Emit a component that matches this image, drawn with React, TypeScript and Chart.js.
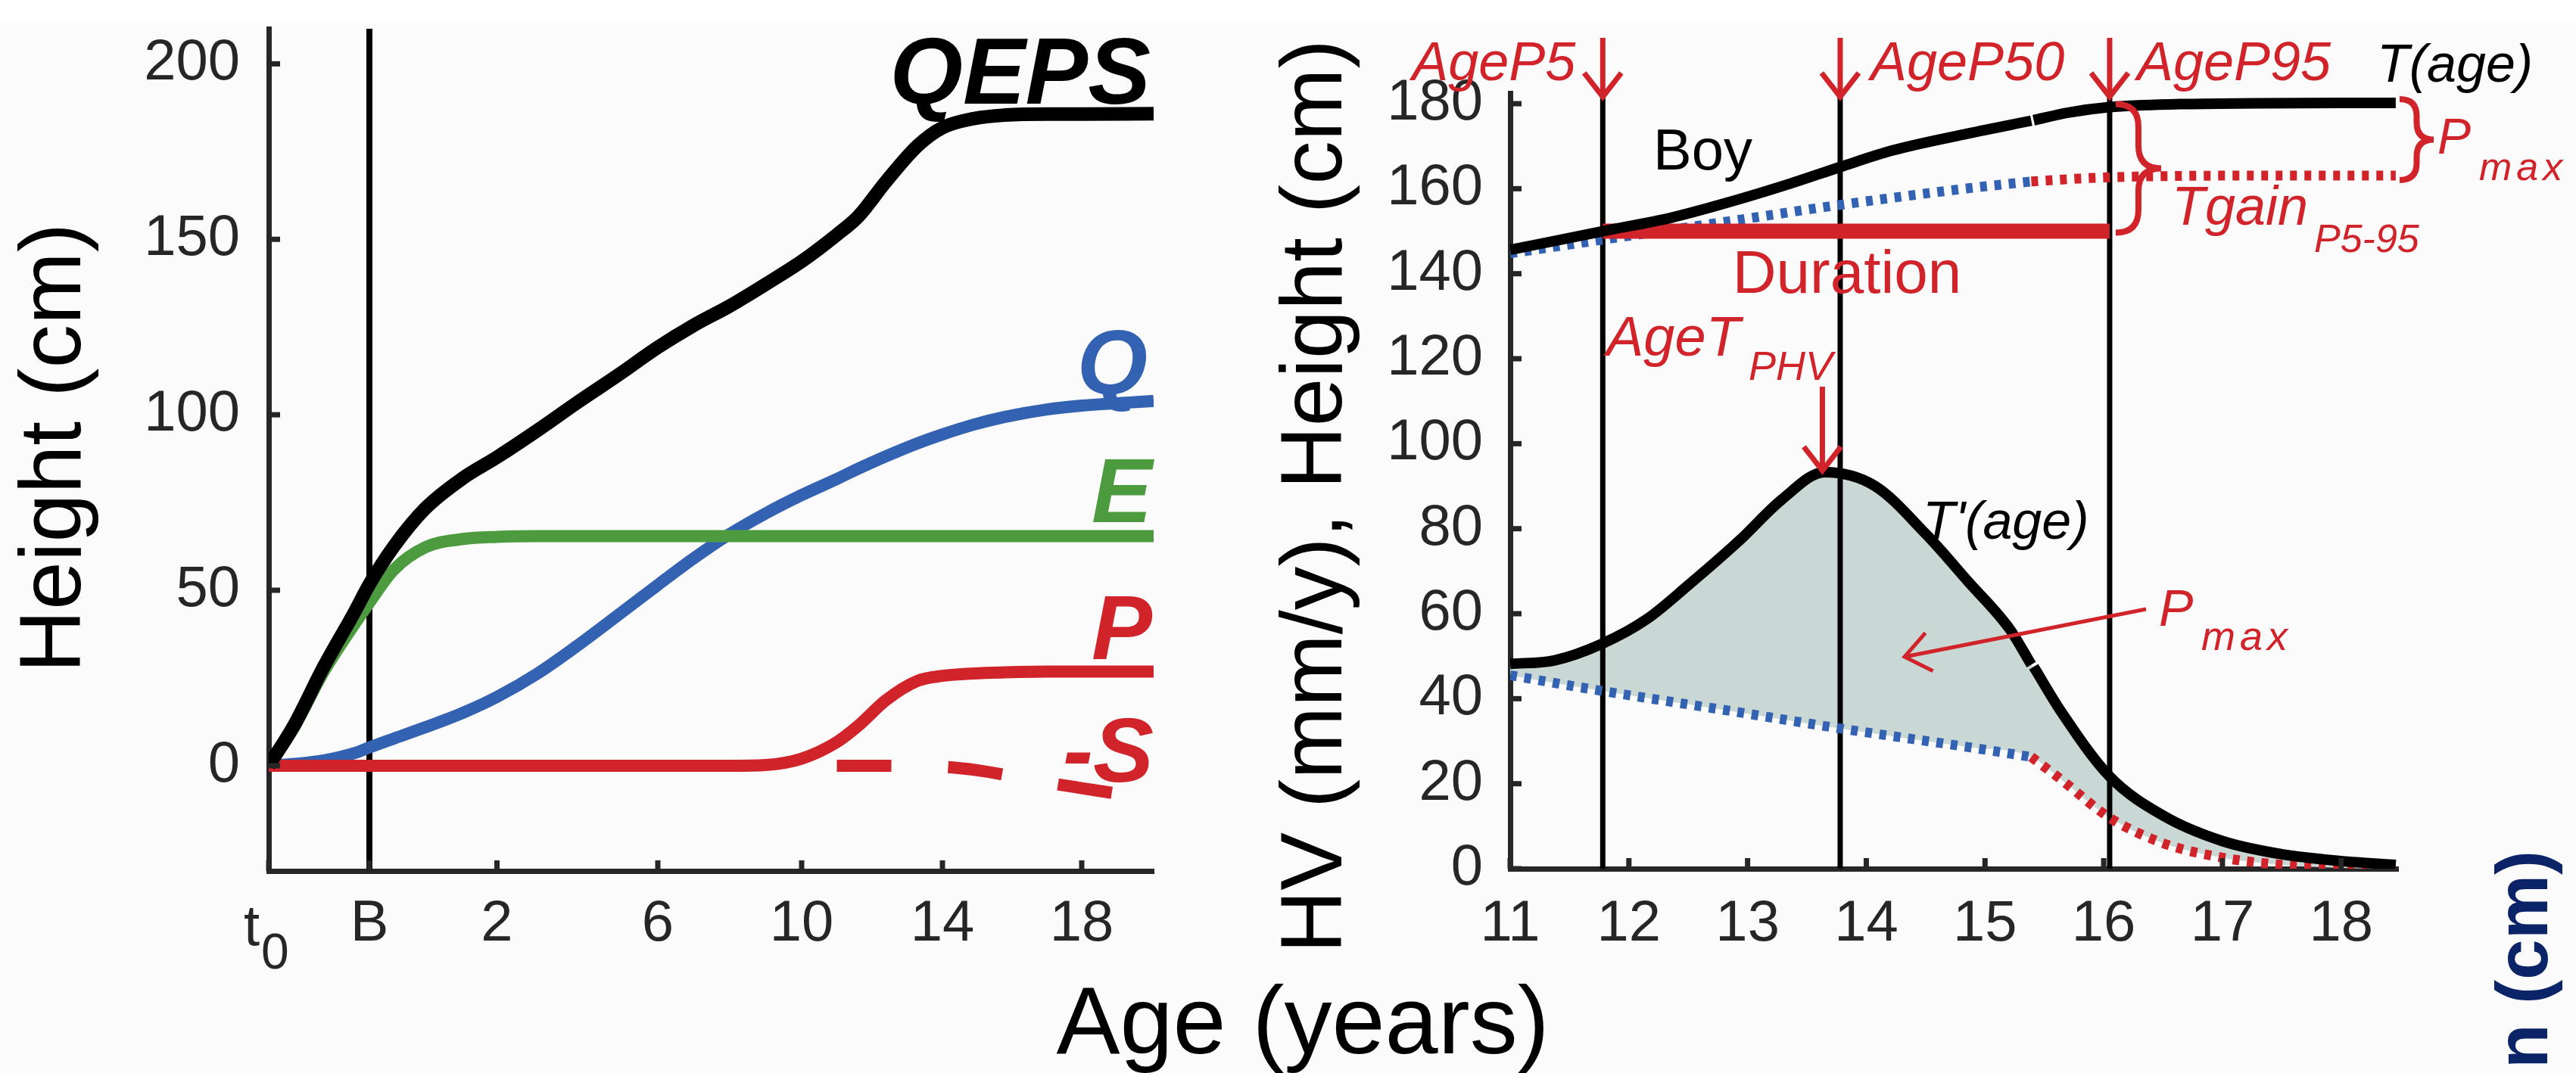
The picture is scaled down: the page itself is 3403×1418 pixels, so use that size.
import React, { useEffect, useRef } from 'react';
import { Chart, registerables } from 'chart.js';

Chart.register(...registerables);

const W = 3403;
const H = 1418;
const FONT = "'Liberation Sans', Arial, Helvetica, sans-serif";
const RED = '#d1232a';
const BLUE = '#3462b2';
const GREEN = '#4d9b3f';
const AXIS_COLOR = '#262626';
const NAVY = '#0b2467';
const FILL = '#c9d7d5';

// ---------------- Left panel (QEPS components) ----------------
const LEFT_TICK_AGES = [-0.75, 0, 2, 6, 10, 14, 18];
const LEFT_TICK_LABELS = ['t0', 'B', '2', '6', '10', '14', '18'];
const LEFT_Y_TICKS = [0, 50, 100, 150, 200];
// the age axis is non-linear: anchor ages and their axis units
const AXIS_AGE_ANCHORS = [-0.75, 0, 2, 6, 10, 14, 18, 20];
const AXIS_UNIT_ANCHORS = [0, 133, 301.5, 514, 704, 890, 1074, 1169];

const LEFT_AGES = [-0.75, -0.56, -0.34, -0.11, 0, 0.38, 0.87, 1.47, 2, 3, 4, 5, 6, 7, 8, 9, 10, 11, 11.6, 12.4, 13.3, 14, 14.9, 15.8, 17, 18, 20];
const QEPS_CM = [0, 11.6, 28.2, 43.8, 51.7, 62.4, 73.2, 82, 87.9, 95.5, 103.5, 111.2, 119.2, 125.5, 131, 137.2, 143.7, 151.3, 156.4, 166.5, 176.7, 181.8, 184.4, 185.4, 185.7, 185.7, 185.8];
const Q_CM = [0, 0.5, 1.5, 3.6, 5.2, 7.7, 10.9, 15.1, 19.6, 26.2, 34.2, 42.8, 51.5, 59.1, 66.0, 71.9, 77.1, 81.7, 84.6, 88.2, 91.9, 94.4, 97.2, 99.4, 101.5, 102.6, 103.9];
const E_CM = [0, 11, 26.8, 40.4, 46.5, 55.8, 62.2, 64.6, 65.2, 65.4, 65.4, 65.4, 65.4, 65.4, 65.4, 65.4, 65.4, 65.4, 65.4, 65.4, 65.4, 65.4, 65.4, 65.4, 65.4, 65.4, 65.4];
const P_CM = [0, 0, 0, 0, 0, 0, 0, 0, 0, 0, 0, 0, 0, 0, 0, 0.2, 2.0, 6.7, 11.3, 18.7, 24.2, 25.6, 26.3, 26.6, 26.8, 26.8, 26.8];
const S_AGES = [11, 12, 13, 14, 15, 16, 17, 18, 19, 20];
const S_CM = [0, 0, -0.1, -0.3, -1.3, -3.0, -4.8, -6.4, -8.0, -9.6];
const BIRTH_AGE = 0;

// ---------------- Right panel (boy, puberty) ----------------
const RIGHT_X_TICKS = [11, 12, 13, 14, 15, 16, 17, 18];
const RIGHT_Y_TICKS = [0, 20, 40, 60, 80, 100, 120, 140, 160, 180];

const T_AGES_A = [11, 11.78, 12.36, 12.79, 13.36, 13.78, 14.22, 14.86, 15.39];
const T_CM_A = [145.6, 150.0, 153.2, 156.4, 161.2, 165.1, 169.0, 173.0, 176.0];
const T_AGES_B = [15.41, 15.7, 16.05, 16.64, 17.3, 18, 18.46];
const T_CM_B = [176.1, 177.9, 179.2, 179.9, 180.1, 180.2, 180.2];

const HV_AGES_A = [11, 11.37, 11.78, 12.15, 12.5, 12.93, 13.29, 13.65, 14.07, 14.5, 14.86, 15.21, 15.39];
const HV_A = [48.2, 49.0, 53.0, 58.7, 66.7, 77.2, 86.9, 93.3, 90.1, 78.8, 67.5, 56.3, 48.0];
const HV_AGES_B = [15.41, 15.64, 16.05, 16.5, 17.0, 17.5, 18.0, 18.46];
const HV_B = [47.5, 37.0, 21.7, 12.5, 6.5, 3.4, 1.8, 0.9];

const BASE_T_AGES_A = [11, 11.78, 12.79, 13.78, 14.86, 15.39];
const BASE_T_A = [144.8, 148.0, 152.1, 156.2, 160.1, 161.7];
const BASE_T_AGES_B = [15.39, 15.8, 16.05, 16.6, 17.5, 18.46];
const BASE_T_B = [161.7, 162.4, 162.7, 163.0, 163.1, 163.1];

const BASE_HV_AGES_A = [11, 11.78, 12.79, 13.78, 14.86, 15.39];
const BASE_HV_A = [45.5, 41.8, 37.4, 33.0, 28.6, 26.3];
const BASE_HV_AGES_B = [15.39, 15.64, 16.05, 16.5, 17.0, 17.5, 18.0, 18.46];
const BASE_HV_B = [26.3, 21.0, 12.0, 6.0, 2.6, 0.9, 0.2, 0];

const AGE_P5 = 11.78;
const AGE_P50 = 13.78;
const AGE_P95 = 16.05;
const AGE_PHV = 13.63;
const PHV_VALUE = 93.3;
const DURATION_CM = 150;

function ageToUnit(age: number): number {
  const A = AXIS_AGE_ANCHORS;
  const U = AXIS_UNIT_ANCHORS;
  if (age <= A[0]) return U[0];
  for (let i = 1; i < A.length; i++) {
    if (age <= A[i]) {
      const t = (age - A[i - 1]) / (A[i] - A[i - 1]);
      return U[i - 1] + t * (U[i] - U[i - 1]);
    }
  }
  return U[U.length - 1];
}

const pts = (ages: number[], vals: number[], f: (a: number) => number = (a) => a) =>
  ages.map((a, i) => ({ x: f(a), y: vals[i] }));

const lineDs = (data: any[], color: string, width: number, extra: any = {}) => ({
  data,
  borderColor: color,
  backgroundColor: color,
  borderWidth: width,
  pointRadius: 0,
  fill: false,
  cubicInterpolationMode: 'monotone',
  borderCapStyle: 'butt',
  borderJoinStyle: 'round',
  ...extra,
});

function seg(ctx: CanvasRenderingContext2D, x1: number, y1: number, x2: number, y2: number) {
  ctx.beginPath();
  ctx.moveTo(x1, y1);
  ctx.lineTo(x2, y2);
  ctx.stroke();
}

function arrow(ctx: CanvasRenderingContext2D, x1: number, y1: number, x2: number, y2: number, head: number) {
  seg(ctx, x1, y1, x2, y2);
  const ang = Math.atan2(y2 - y1, x2 - x1);
  const a1 = ang + Math.PI - 0.66;
  const a2 = ang + Math.PI + 0.66;
  ctx.beginPath();
  ctx.moveTo(x2 + head * Math.cos(a1), y2 + head * Math.sin(a1));
  ctx.lineTo(x2, y2);
  ctx.lineTo(x2 + head * Math.cos(a2), y2 + head * Math.sin(a2));
  ctx.stroke();
}

function brace(ctx: CanvasRenderingContext2D, x: number, top: number, bot: number, w: number) {
  const mid = (top + bot) / 2;
  const xm = x + w * 0.5;
  const r = Math.min(w * 0.5, (bot - top) / 4);
  ctx.beginPath();
  ctx.moveTo(x, top);
  ctx.quadraticCurveTo(xm, top, xm, top + r);
  ctx.lineTo(xm, mid - r);
  ctx.quadraticCurveTo(xm, mid, x + w, mid);
  ctx.quadraticCurveTo(xm, mid, xm, mid + r);
  ctx.lineTo(xm, bot - r);
  ctx.quadraticCurveTo(xm, bot, x, bot);
  ctx.stroke();
}

function text(
  ctx: CanvasRenderingContext2D,
  s: string,
  x: number,
  y: number,
  font: string,
  color: string,
  align: CanvasTextAlign = 'left',
  spacing = 0
) {
  ctx.save();
  ctx.font = font;
  ctx.fillStyle = color;
  ctx.textAlign = align;
  ctx.textBaseline = 'alphabetic';
  (ctx as any).letterSpacing = spacing + 'px';
  ctx.fillText(s, x, y);
  ctx.restore();
}

function rotText(ctx: CanvasRenderingContext2D, s: string, x: number, y: number, font: string, color: string, align: CanvasTextAlign) {
  ctx.save();
  ctx.translate(x, y);
  ctx.rotate(-Math.PI / 2);
  ctx.font = font;
  ctx.fillStyle = color;
  ctx.textAlign = align;
  ctx.textBaseline = 'alphabetic';
  ctx.fillText(s, 0, 0);
  ctx.restore();
}

const it = (size: number) => `italic ${size}px ${FONT}`;
const bi = (size: number) => `italic bold ${size}px ${FONT}`;
const rg = (size: number) => `${size}px ${FONT}`;
const TICK_SIZE = 76;

const leftDecor = {
  id: 'leftDecor',
  beforeDraw(chart: any) {
    const { ctx, width, height } = chart;
    ctx.save();
    ctx.fillStyle = '#fbfbfb';
    ctx.fillRect(0, 0, width, height);
    ctx.fillStyle = '#ffffff';
    ctx.fillRect(0, 0, width, 30);
    ctx.restore();
  },
  afterDraw(chart: any) {
    const { ctx, chartArea: ca } = chart;
    const xs = chart.scales.x;
    const ys = chart.scales.y;
    ctx.save();
    ctx.strokeStyle = AXIS_COLOR;
    ctx.lineWidth = 7;
    LEFT_Y_TICKS.forEach((v) => seg(ctx, ca.left, ys.getPixelForValue(v), ca.left + 15, ys.getPixelForValue(v)));
    LEFT_TICK_AGES.forEach((a) => {
      const x = xs.getPixelForValue(ageToUnit(a));
      seg(ctx, x, ca.bottom, x, ca.bottom - 14);
    });
    // t0 tick label
    const x0 = xs.getPixelForValue(ageToUnit(LEFT_TICK_AGES[0]));
    text(ctx, 't', x0 - 12, 1249, rg(TICK_SIZE), AXIS_COLOR, 'right');
    text(ctx, '0', x0 - 10, 1280, rg(66), AXIS_COLOR, 'left');
    // axis titles
    rotText(ctx, 'Height (cm)', 106, 592, rg(115), '#000', 'center');
    text(ctx, 'Age (years)', 1721, 1392, rg(126), '#000', 'center');
    // series labels
    const r = ca.right;
    text(ctx, 'QEPS', r - 4, 137, bi(124), '#000', 'right');
    text(ctx, 'Q', r - 8, 520, bi(120), BLUE, 'right');
    text(ctx, 'E', r - 2, 690, bi(120), GREEN, 'right');
    text(ctx, 'P', r - 2, 871, bi(120), RED, 'right');
    text(ctx, '-S', r, 1033, bi(120), RED, 'right');
    ctx.restore();
  },
};

const rightDecor = {
  id: 'rightDecor',
  afterDraw(chart: any) {
    const { ctx, chartArea: ca } = chart;
    const xs = chart.scales.x;
    const ys = chart.scales.y;
    const px = (a: number) => xs.getPixelForValue(a);
    const py = (v: number) => ys.getPixelForValue(v);
    ctx.save();
    ctx.lineCap = 'butt';
    ctx.strokeStyle = AXIS_COLOR;
    ctx.lineWidth = 7;
    RIGHT_Y_TICKS.forEach((v) => seg(ctx, ca.left, py(v), ca.left + 15, py(v)));
    RIGHT_X_TICKS.forEach((a) => seg(ctx, px(a), ca.bottom, px(a), ca.bottom - 14));

    // red arrows at the top of the percentile lines
    ctx.strokeStyle = RED;
    ctx.lineWidth = 7;
    ctx.lineJoin = 'miter';
    [AGE_P5, AGE_P50, AGE_P95].forEach((a) => arrow(ctx, px(a), 50, px(a), ca.top + 5, 40));
    text(ctx, 'AgeP5', px(AGE_P5) - 36, 106, it(72), RED, 'right');
    text(ctx, 'AgeP50', px(AGE_P50) + 40, 106, it(72), RED, 'left');
    text(ctx, 'AgeP95', px(AGE_P95) + 36, 106, it(72), RED, 'left');
    text(ctx, 'T(age)', ca.right - 28, 108, it(70), '#000', 'left');

    text(ctx, 'Boy', 2184, 224, rg(76), '#000', 'left');
    text(ctx, 'Duration', 2440, 387, rg(80), RED, 'center');

    // braces
    ctx.lineWidth = 8;
    brace(ctx, px(AGE_P95) + 8, py(T_CM_B[2]) - 4, py(DURATION_CM) + 2, 60);
    text(ctx, 'Tgain', 2869, 297, it(72), RED, 'left');
    text(ctx, 'P5-95', 3057, 333, it(52), RED, 'left');
    brace(ctx, ca.right + 2, py(T_CM_B[T_CM_B.length - 1]) - 5, py(BASE_T_B[BASE_T_B.length - 1]) + 6, 45);
    text(ctx, 'P', 3220, 203, it(66), RED, 'left');
    text(ctx, 'max', 3275, 238, it(52), RED, 'left', 6);

    // PHV arrow
    ctx.lineWidth = 7;
    text(ctx, 'AgeT', 2122, 470, it(74), RED, 'left');
    text(ctx, 'PHV', 2310, 502, it(54), RED, 'left');
    arrow(ctx, px(AGE_PHV), 511, px(AGE_PHV), py(PHV_VALUE) - 2, 40);

    text(ctx, "T'(age)", 2540, 712, it(70), '#000', 'left');

    // Pmax arrow into shaded area
    text(ctx, 'P', 2852, 827, it(68), RED, 'left');
    text(ctx, 'max', 2908, 859, it(54), RED, 'left', 6);
    ctx.lineWidth = 5;
    arrow(ctx, 2835, 805, 2516, 868, 42);

    // axis titles
    rotText(ctx, 'HV (mm/y), Height (cm)', 1772, 656, rg(115), '#000', 'center');
    rotText(ctx, 'n (cm)', 3365, 1412, `bold 96px ${FONT}`, NAVY, 'left');
    ctx.restore();
  },
};

const baseOptions = {
  animation: false,
  responsive: false,
  devicePixelRatio: 1,
  events: [],
  plugins: { legend: { display: false }, tooltip: { enabled: false }, title: { display: false } },
  elements: { point: { radius: 0 } },
};

function leftConfig(): any {
  const u = ageToUnit;
  return {
    type: 'line',
    data: {
      datasets: [
        lineDs([{ x: u(BIRTH_AGE), y: -30 }, { x: u(BIRTH_AGE), y: 210 }], '#000', 8, { order: 10, cubicInterpolationMode: 'default', tension: 0 }),
        lineDs(pts(LEFT_AGES, Q_CM, u), BLUE, 16, { order: 5 }),
        lineDs(pts(LEFT_AGES, E_CM, u), GREEN, 16, { order: 4 }),
        lineDs(pts(S_AGES, S_CM, u), RED, 16, { order: 3, borderDash: [72, 75] }),
        lineDs(pts(LEFT_AGES, P_CM, u), RED, 16, { order: 2 }),
        lineDs(pts(LEFT_AGES, QEPS_CM, u), '#000', 18, { order: 1 }),
      ],
    },
    options: {
      ...baseOptions,
      layout: { autoPadding: false, padding: { left: 0, right: W - 1524, top: 38, bottom: 0 } },
      scales: {
        x: {
          type: 'linear',
          bounds: 'data',
          min: 0,
          max: AXIS_UNIT_ANCHORS[AXIS_UNIT_ANCHORS.length - 1],
          afterBuildTicks: (s: any) => {
            s.ticks = LEFT_TICK_AGES.map((a) => ({ value: ageToUnit(a) }));
          },
          afterFit: (s: any) => {
            s.height = H - 1151;
            s.paddingLeft = 0;
            s.paddingRight = 0;
          },
          grid: { display: false, drawTicks: false },
          border: { display: true, color: AXIS_COLOR, width: 7 },
          ticks: {
            autoSkip: false,
            maxRotation: 0,
            padding: 33,
            color: AXIS_COLOR,
            font: { family: FONT, size: TICK_SIZE, lineHeight: 1 },
            callback: (_v: any, i: number) => (i === 0 ? '' : LEFT_TICK_LABELS[i]),
          },
        },
        y: {
          type: 'linear',
          bounds: 'data',
          min: -30,
          max: 210,
          afterBuildTicks: (s: any) => {
            s.ticks = LEFT_Y_TICKS.map((v) => ({ value: v }));
          },
          afterFit: (s: any) => {
            s.width = 355;
            s.paddingTop = 0;
            s.paddingBottom = 0;
          },
          grid: { display: false, drawTicks: false },
          border: { display: true, color: AXIS_COLOR, width: 7 },
          ticks: {
            autoSkip: false,
            padding: 38,
            color: AXIS_COLOR,
            font: { family: FONT, size: TICK_SIZE, lineHeight: 1 },
          },
        },
      },
    },
    plugins: [leftDecor],
  };
}

function rightConfig(): any {
  const hvFull = pts(HV_AGES_A, HV_A).concat(pts(HV_AGES_B, HV_B));
  const baseFull = pts(BASE_HV_AGES_A, BASE_HV_A).concat(pts(BASE_HV_AGES_B.slice(1), BASE_HV_B.slice(1)));
  const vline = (a: number) =>
    lineDs([{ x: a, y: 0 }, { x: a, y: 182.5 }], '#000', 7, { order: 10, cubicInterpolationMode: 'default', tension: 0 });
  const dotted = { order: 6, borderDash: [9, 10] };
  return {
    type: 'line',
    data: {
      datasets: [
        lineDs(hvFull, 'rgba(0,0,0,0)', 0, { order: 20, fill: '+1', backgroundColor: FILL }),
        lineDs(baseFull, 'rgba(0,0,0,0)', 0, { order: 19 }),
        vline(AGE_P5),
        vline(AGE_P50),
        vline(AGE_P95),
        lineDs(pts(BASE_T_AGES_A, BASE_T_A), BLUE, 13, dotted),
        lineDs(pts(BASE_T_AGES_B, BASE_T_B), RED, 13, dotted),
        lineDs(pts(BASE_HV_AGES_A, BASE_HV_A), BLUE, 13, dotted),
        lineDs(pts(BASE_HV_AGES_B, BASE_HV_B), RED, 13, dotted),
        lineDs([{ x: AGE_P5, y: DURATION_CM }, { x: AGE_P95, y: DURATION_CM }], RED, 20, { order: 4, cubicInterpolationMode: 'default', tension: 0 }),
        lineDs(pts(T_AGES_A, T_CM_A), '#000', 14, { order: 1 }),
        lineDs(pts(T_AGES_B, T_CM_B), '#000', 14, { order: 1 }),
        lineDs(pts(HV_AGES_A, HV_A), '#000', 14, { order: 1 }),
        lineDs(pts(HV_AGES_B, HV_B), '#000', 14, { order: 1 }),
      ],
    },
    options: {
      ...baseOptions,
      layout: { autoPadding: false, padding: { left: 1795, right: W - 3168, top: 123, bottom: 0 } },
      scales: {
        x: {
          type: 'linear',
          bounds: 'data',
          min: 11,
          max: 18.48,
          afterBuildTicks: (s: any) => {
            s.ticks = RIGHT_X_TICKS.map((v) => ({ value: v }));
          },
          afterFit: (s: any) => {
            s.height = H - 1148;
            s.paddingLeft = 0;
            s.paddingRight = 0;
          },
          grid: { display: false, drawTicks: false },
          border: { display: true, color: AXIS_COLOR, width: 7 },
          ticks: {
            autoSkip: false,
            maxRotation: 0,
            padding: 36,
            color: AXIS_COLOR,
            font: { family: FONT, size: TICK_SIZE, lineHeight: 1 },
          },
        },
        y: {
          type: 'linear',
          bounds: 'data',
          min: 0,
          max: 182.5,
          afterBuildTicks: (s: any) => {
            s.ticks = RIGHT_Y_TICKS.map((v) => ({ value: v }));
          },
          afterFit: (s: any) => {
            s.width = 200;
            s.paddingTop = 0;
            s.paddingBottom = 0;
          },
          grid: { display: false, drawTicks: false },
          border: { display: true, color: AXIS_COLOR, width: 7 },
          ticks: {
            autoSkip: false,
            padding: 36,
            color: AXIS_COLOR,
            font: { family: FONT, size: TICK_SIZE, lineHeight: 1 },
          },
        },
      },
    },
    plugins: [rightDecor],
  };
}

export default function App() {
  const leftRef = useRef<HTMLCanvasElement>(null);
  const rightRef = useRef<HTMLCanvasElement>(null);
  useEffect(() => {
    const left = new Chart(leftRef.current as HTMLCanvasElement, leftConfig());
    const right = new Chart(rightRef.current as HTMLCanvasElement, rightConfig());
    return () => {
      left.destroy();
      right.destroy();
    };
  }, []);
  const cs: React.CSSProperties = { position: 'absolute', left: 0, top: 0, width: W, height: H };
  return (
    <div style={{ position: 'absolute', left: 0, top: 0, width: W, height: H, overflow: 'hidden', background: '#fbfbfb' }}>
      <canvas ref={leftRef} width={W} height={H} style={cs} />
      <canvas ref={rightRef} width={W} height={H} style={cs} />
    </div>
  );
}
